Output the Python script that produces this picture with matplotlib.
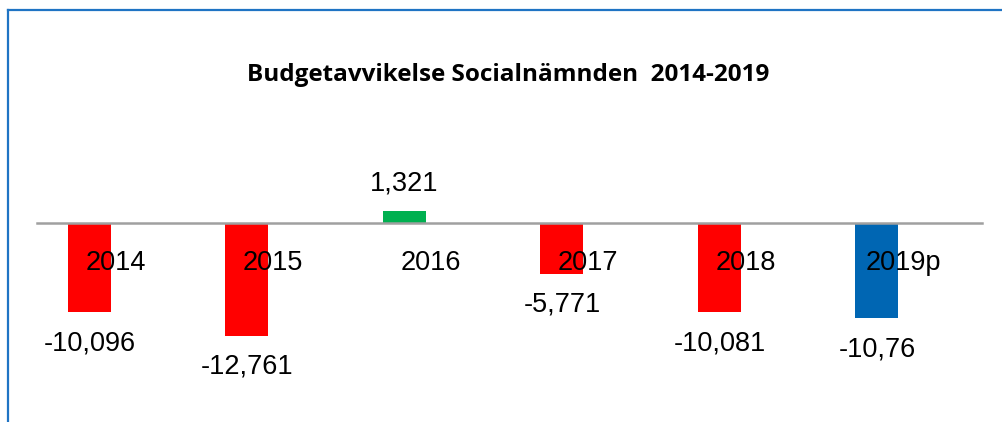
import matplotlib.pyplot as plt
from matplotlib.lines import Line2D

# Data
ar = ["2014", "2015", "2016", "2017", "2018", "2019p"]
avvikelse = [-10.096, -12.761, 1.321, -5.771, -10.081, -10.76]
etiketter = ["-10,096", "-12,761", "1,321", "-5,771", "-10,081", "-10,76"]
farger = ["#FF0000", "#FF0000", "#00B050", "#FF0000", "#FF0000", "#0066B3"]

plt.rcParams["font.family"] = ["Liberation Sans", "DejaVu Sans"]

fig = plt.figure(figsize=(10.02, 4.22), dpi=100)
ax = fig.add_axes([0.0369, 0.0528, 0.9431, 0.5038])

# staplarna sitter lite till vänster om kategorins mitt (som i Excel)
x = list(range(len(ar)))
xb = [i - 0.167 for i in x]
staplar = ax.bar(xb, avvikelse, width=0.273, color=farger, zorder=2)

ax.set_xlim(-0.5, len(ar) - 0.5)
ax.set_ylim(-20, 4)

for s in ["top", "right", "left"]:
    ax.spines[s].set_visible(False)
ax.spines["bottom"].set_position(("data", 0))
ax.spines["bottom"].set_color("#A0A0A0")
ax.spines["bottom"].set_linewidth(1.8)
ax.spines["bottom"].set_zorder(3)
ax.set_yticks([])
ax.set_xticks(x)
ax.set_xticklabels(ar, fontsize=19.5)
ax.tick_params(axis="x", length=0, pad=19.5)
# kategorietiketterna ska ligga ovanpå staplarna
ax.xaxis.set_zorder(5)

# värdeetiketter
for bar, v, txt in zip(staplar, avvikelse, etiketter):
    xc = bar.get_x() + bar.get_width() / 2
    if v >= 0:
        ax.annotate(txt, (xc, v), xytext=(0, 20), textcoords="offset points",
                    ha="center", va="center", fontsize=19.5)
    else:
        ax.annotate(txt, (xc, v), xytext=(0, -22.5), textcoords="offset points",
                    ha="center", va="center", fontsize=19.5)

fig.text(0.507, 1 - 75 / 422, "Budgetavvikelse Socialnämnden  2014-2019",
         ha="center", va="center", fontsize=17.5, fontweight="bold",
         family=["Open Sans", "DejaVu Sans"])

# blå ram (vänster + överkant)
ram = "#1F74C4"
fig.add_artist(Line2D([8 / 1002, 8 / 1002], [0, 1 - 10 / 422], color=ram, lw=1.6))
fig.add_artist(Line2D([8 / 1002, 1], [1 - 10 / 422, 1 - 10 / 422], color=ram, lw=1.6))

fig.savefig("out.png", dpi=100)
